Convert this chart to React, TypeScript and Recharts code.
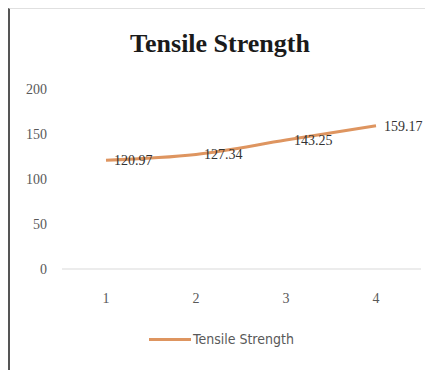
import React from "react";
import { LineChart, Line, XAxis, YAxis, Legend, LabelList } from "recharts";

const categories = ["1", "2", "3", "4"];
const strength = [120.97, 127.34, 143.25, 159.17];
const yTicks = [0, 50, 100, 150, 200];
const seriesName = "Tensile Strength";

const data = categories.map((c, i) => ({ name: c, value: strength[i] }));

const lineColor = "#DE9560";
const tickFont = { fontFamily: "Liberation Serif", fontSize: 14, fill: "#595959" };

const renderLegend = (props: any) => {
  const { payload } = props;
  return (
    <div style={{ display: "flex", justifyContent: "center", alignItems: "center" }}>
      {(payload || []).map((p: any) => (
        <div key={p.value} style={{ display: "flex", alignItems: "center" }}>
          <div style={{ width: 42, height: 3, background: lineColor, marginRight: 2 }} />
          <span style={{ fontFamily: "DejaVu Sans Condensed, Liberation Sans Narrow, sans-serif", fontSize: 14, color: "#595959" }}>
            {p.value}
          </span>
        </div>
      ))}
    </div>
  );
};

const App = () => {
  return (
    <div
      style={{
        position: "relative",
        width: 425,
        height: 362,
        borderLeft: "2px solid #555",
        borderTop: "1px solid #e0e0e0",
        boxSizing: "border-box",
        background: "#fff",
      }}
    >
      <div
        style={{
          position: "absolute",
          top: 20,
          left: 0,
          width: 420,
          textAlign: "center",
          fontFamily: "Liberation Serif",
          fontWeight: "bold",
          fontSize: 26,
          color: "#1a1a1a",
        }}
      >
        Tensile Strength
      </div>
      <LineChart
        width={423}
        height={361}
        data={data}
        margin={{ top: 80, right: 12, bottom: 55, left: 0 }}
        style={{ overflow: "visible" }}
      >
        <XAxis
          dataKey="name"
          axisLine={{ stroke: "#d9d9d9" }}
          tickLine={false}
          tickSize={0}
          tickMargin={24}
          tick={tickFont}
          height={30}
          padding={{ left: 44, right: 45 }}
        />
        <YAxis
          domain={[0, 200]}
          ticks={yTicks}
          axisLine={false}
          tickLine={false}
          tickSize={0}
          tickMargin={15}
          tick={tickFont}
          width={52}
        />
        <Legend
          content={renderLegend}
          verticalAlign="bottom"
          wrapperStyle={{ top: 322, left: 0, width: 423 }}
        />
        <Line
          name={seriesName}
          type="monotone"
          dataKey="value"
          stroke={lineColor}
          strokeWidth={3}
          dot={false}
          isAnimationActive={false}
        >
          <LabelList
            dataKey="value"
            position="right"
            offset={8}
            style={{ fontFamily: "Liberation Serif", fontSize: 14, fill: "#333" }}
          />
        </Line>
      </LineChart>
    </div>
  );
};

export default App;
